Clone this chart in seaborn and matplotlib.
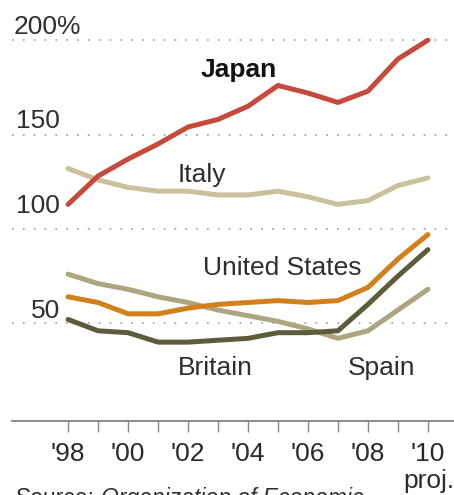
import matplotlib
matplotlib.use("Agg")
import matplotlib.pyplot as plt
import seaborn as sns
import pandas as pd

# Government debt as a share of GDP, 1998-2010 (2010 projected)
years = list(range(1998, 2011))
japan = [113, 128, 137, 145, 154, 158, 165, 176, 172, 167, 173, 190, 200]
italy = [132, 126, 122, 120, 120, 118, 118, 120, 117, 113, 115, 123, 127]
united_states = [64, 61, 55, 55, 58, 60, 61, 62, 61, 62, 69, 84, 97]
britain = [52, 46, 45, 40, 40, 41, 42, 45, 45, 46, 60, 75, 89]
spain = [76, 71, 68, 64, 61, 57, 54, 51, 47, 42, 46, 57, 68]

tick_years = [1998, 2000, 2002, 2004, 2006, 2008, 2010]
tick_labels = ["'98", "'00", "'02", "'04", "'06", "'08", "'10"]
grid_values = [50, 100, 150, 200]
grid_labels = ["50", "100", "150", "200%"]

colors = {
    "Spain": "#aca57f",
    "Italy": "#c9c19c",
    "Britain": "#5e5b3b",
    "United States": "#d2801c",
    "Japan": "#c64a3c",
}

series = {"Japan": japan, "Italy": italy, "United States": united_states,
          "Britain": britain, "Spain": spain}
df = pd.concat(
    [pd.DataFrame({"year": years, "debt": vals, "country": name})
     for name, vals in series.items()],
    ignore_index=True,
)

sns.set_style("white")
plt.rcParams["font.family"] = ["Liberation Sans", "DejaVu Sans"]

fig = plt.figure(figsize=(4.54, 4.95), dpi=100)
ax = fig.add_axes([12 / 454, 74 / 495, 442 / 454, 421 / 495])

# dotted gridlines
for v in grid_values:
    ax.axhline(v, color="#a8a8a8", lw=1.3, ls=(0, (1, 5)), zorder=0)

sns.lineplot(data=df, x="year", y="debt", hue="country",
             hue_order=["Spain", "Italy", "Britain", "United States", "Japan"],
             palette=colors, lw=3.6, legend=False, ax=ax)

ax.set_xlim(1996.13, 2010.87)
ax.set_ylim(-1.8, 221.3)

for sp in ["top", "right", "left"]:
    ax.spines[sp].set_visible(False)
ax.spines["bottom"].set_color("#777777")
ax.spines["bottom"].set_linewidth(1.2)

ax.set_yticks([])
ax.set_xticks(tick_years)
ax.set_xticklabels(tick_labels)
ax.set_xticks(years, minor=True)
ax.tick_params(axis="x", which="both", bottom=True, length=8, width=1,
               color="#888888", pad=7, labelsize=19, labelcolor="#2a2a2a")
ax.set_xlabel("")
ax.set_ylabel("")

# y-value labels sitting above gridlines
fs = 19
txt_c = "#2e2e2e"
ax.text(1996.17, 203.5, grid_labels[3], ha="left", va="baseline",
        fontsize=fs, color=txt_c)
ax.text(1997.73, 153.6, grid_labels[2], ha="right", va="baseline",
        fontsize=fs, color=txt_c)
ax.text(1997.73, 108.6, grid_labels[1], ha="right", va="baseline",
        fontsize=fs, color=txt_c)
ax.text(1997.73, 52.8, grid_labels[0], ha="right", va="baseline",
        fontsize=fs, color=txt_c)

# series labels
ax.text(2003.7, 180.5, "Japan", ha="center", va="baseline", fontsize=fs,
        fontweight="bold", color="#111111")
ax.text(2002.47, 124.8, "Italy", ha="center", va="baseline", fontsize=fs,
        color=txt_c)
ax.text(2005.13, 75.5, "United States", ha="center", va="baseline",
        fontsize=fs, color=txt_c)
ax.text(2002.9, 22.6, "Britain", ha="center", va="baseline", fontsize=fs,
        color=txt_c)
ax.text(2008.47, 22.6, "Spain", ha="center", va="baseline", fontsize=fs,
        color=txt_c)

fig.text(429 / 454, (495 - 488) / 495, "proj.", ha="center", va="baseline",
         fontsize=fs, color=txt_c)

# source line, mostly cut off by the bottom edge like the original
src_fs = 16.5
src_y = (495 - 505) / 495
src = fig.text(16 / 454, src_y, "Source:", ha="left", va="baseline",
               fontsize=src_fs, color=txt_c)
fig.canvas.draw()
bb = src.get_window_extent()
fig.text((bb.x1 + 6) / 454, src_y, "Organization of Economic", ha="left",
         va="baseline", fontsize=src_fs, style="italic", color=txt_c)

fig.savefig("out.png", dpi=100)
